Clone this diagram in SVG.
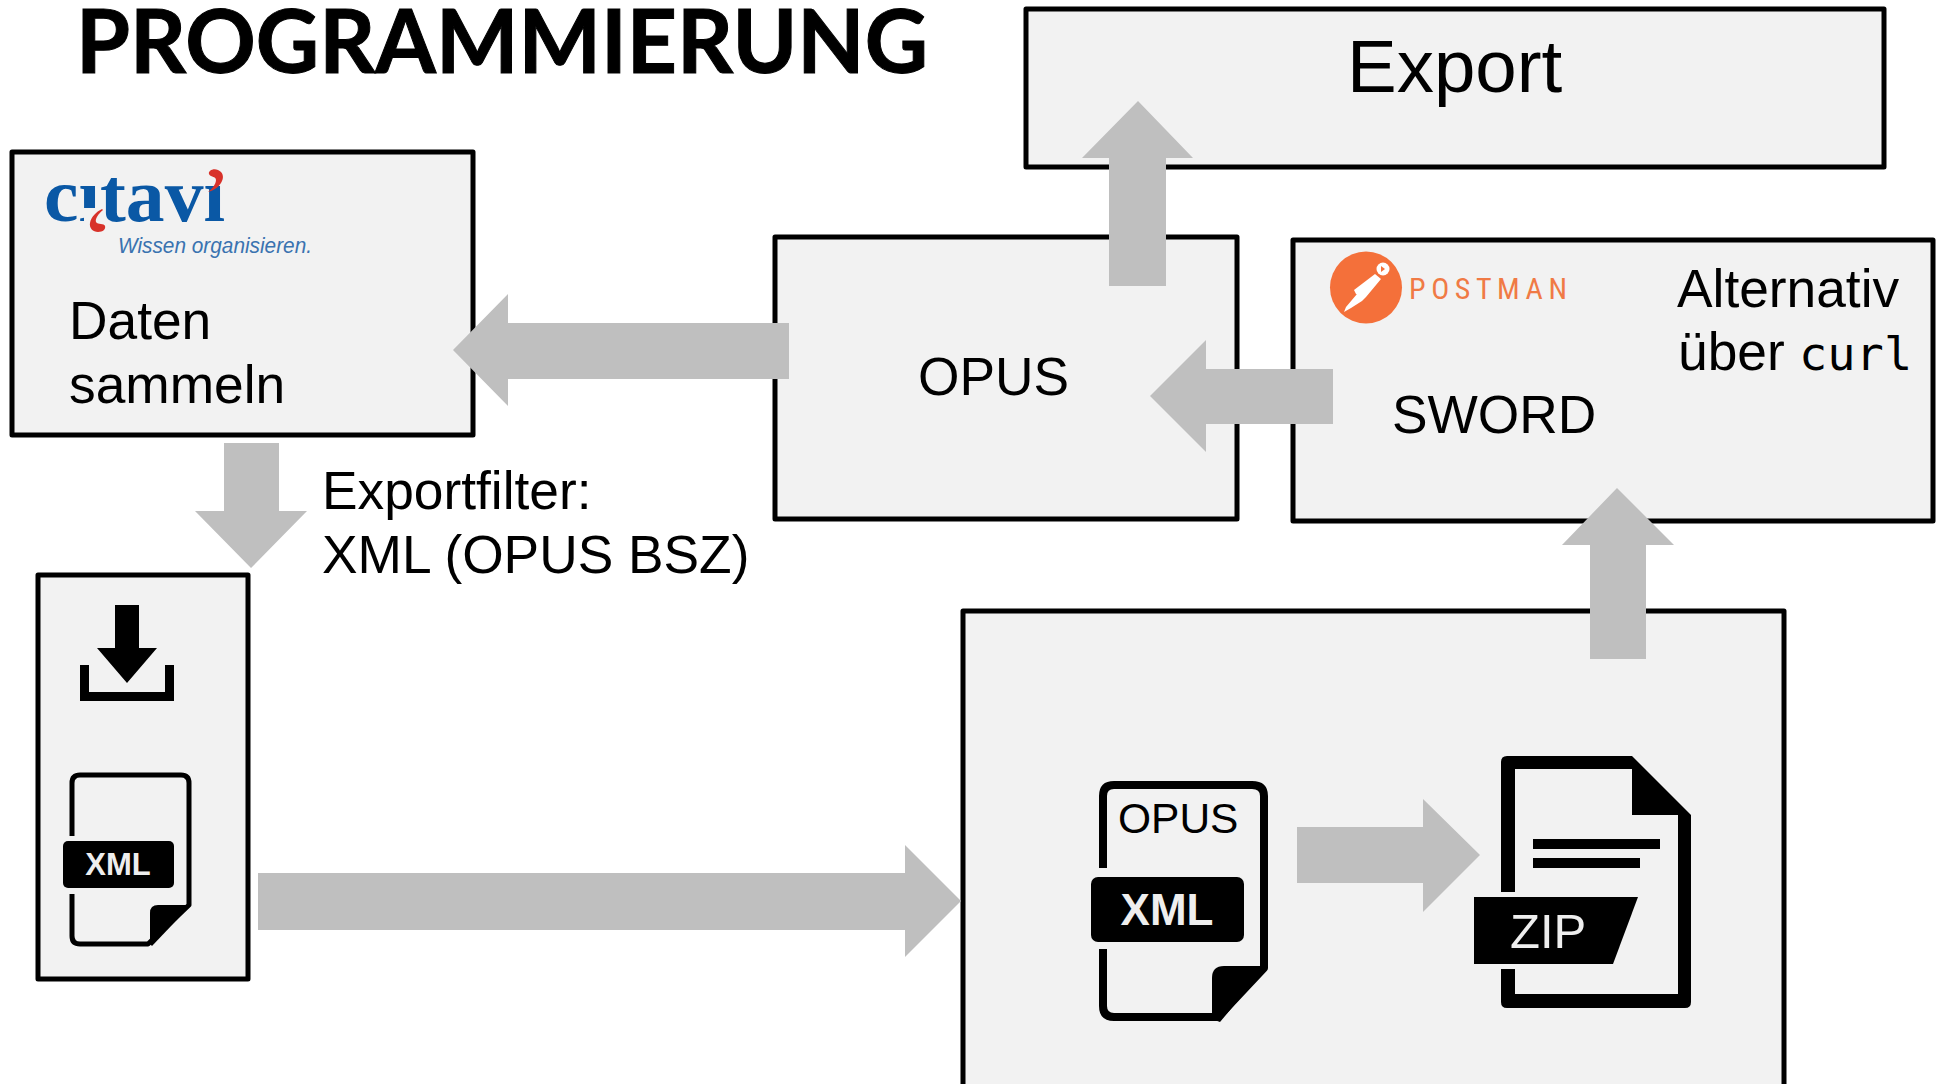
<svg xmlns="http://www.w3.org/2000/svg" width="1939" height="1084" viewBox="0 0 1939 1084">
<style>
.box{fill:#f2f2f2;stroke:#000;stroke-width:5;stroke-linejoin:round}
.arrow{fill:#bfbfbf}
.t{font-family:"Liberation Sans",Arial,sans-serif;font-size:53.3px;fill:#000}
.ico{fill:#000}
.line{fill:none;stroke:#000;stroke-linejoin:round}
</style>
<rect width="1939" height="1084" fill="#fff"/>
<g id="title"><text x="76" y="73" font-family="Lato,'Open Sans',sans-serif" font-weight="700" font-size="88" textLength="852" lengthAdjust="spacingAndGlyphs" fill="#000" stroke="#000" stroke-width="1">PROGRAMMIERUNG</text></g>
<g id="node-export"><rect class="box" x="1026" y="9" width="858" height="158"/><text class="t" x="1347" y="92" style="font-size:74.5px">Export</text></g>
<g id="node-citavi"><rect class="box" x="12" y="152" width="461" height="283"/>
<text x="44" y="221" font-family="'Liberation Serif',serif" font-weight="700" font-size="76" textLength="181" lengthAdjust="spacingAndGlyphs" fill="#0a58a5">cıtavı</text>
<rect x="84" y="208" width="15" height="16" fill="#f2f2f2"/>
<path d="M102 209c-6 3-11 8-12 14-1 5 3 9 8 9 5 0 8-3 7-6-1-3-7-1-9-4-1-3 2-8 7-12zM208 192c4-3 8-8 8-12 0-4-6-3-7-6-1-3 4-6 9-4 5 2 6 7 4 11-2 5-7 9-14 11z" fill="#d8322a"/>
<text x="118" y="253" font-family="'Liberation Sans',sans-serif" font-style="italic" font-size="22" textLength="194" lengthAdjust="spacingAndGlyphs" fill="#3a73b0">Wissen organisieren.</text>
<text class="t" x="69" y="339">Daten</text><text class="t" x="69" y="403">sammeln</text></g>
<g id="node-opus"><rect class="box" x="775" y="237" width="462" height="282"/><text class="t" x="918" y="395">OPUS</text></g>
<g id="node-sword"><rect class="box" x="1293" y="240" width="640" height="281"/>
<circle cx="1366" cy="287.500" r="36" fill="#f4703a"/>
<g fill="#fff"><circle cx="1383" cy="269" r="6.500"/><path d="M1375 274l6 5-15 18-10-3-2-4zM1357 294l9 3-4 4-11 7-7 4 2-5z"/></g>
<path d="M1381 266l4 3-4 3z" fill="#f4703a"/>
<text x="1409" y="299" font-family="'Liberation Sans Narrow','Roboto Condensed',Roboto,sans-serif" font-size="30" textLength="158" fill="#f07a45">POSTMAN</text>
<text class="t" x="1677" y="307">Alternativ</text>
<text class="t" x="1678" y="370">über</text><text x="1799" y="370" font-family="'DejaVu Sans Mono',monospace" font-size="47" fill="#000">curl</text>
<text class="t" x="1392" y="433">SWORD</text></g>
<g id="node-xml"><rect class="box" x="38" y="575" width="210" height="404"/>
<path class="ico" d="M115 605h24v43h18l-30 35-30-35h18zM80 665h9v27h76v-27h9v36H80z"/>
<path class="line" stroke-width="5" d="M72 836V783q0-8 8-8H181q8 0 8 8V905L148 944H80q-8 0-8-8V894"/>
<path class="ico" d="M150 944V913q0-8 8-8H191L152 946z"/>
<rect class="ico" x="63" y="841" width="111" height="47" rx="5"/>
<text x="118" y="875" text-anchor="middle" font-family="'Liberation Sans',sans-serif" font-weight="700" font-size="31" fill="#eee">XML</text></g>
<g id="node-package"><rect class="box" x="963" y="611" width="821" height="500"/>
<path class="line" stroke-width="8" d="M1103 868V796q0-11 11-11H1252q12 0 12 11V968L1218 1017H1114q-11 0-11-11V949"/>
<path class="ico" d="M1212 1019V978q0-12 12-12H1267L1220 1022z"/>
<rect class="ico" x="1091" y="877" width="153" height="65" rx="7"/>
<text class="t" x="1118" y="833" style="font-size:42.500px">OPUS</text>
<text x="1167" y="925" text-anchor="middle" font-family="'Liberation Sans',sans-serif" font-weight="700" font-size="44" fill="#eee">XML</text>
<path class="ico" fill-rule="evenodd" d="M1501 892V762q0-6 6-6H1632L1691 815V1002q0 6-6 6H1507q-6 0-6-6V969H1515V994H1678V815H1632V769H1515V892z"/>
<rect class="ico" x="1533" y="839" width="127" height="10"/><rect class="ico" x="1533" y="858" width="107" height="10"/>
<path class="ico" d="M1474 897H1638L1613 964H1474z"/>
<text x="1510" y="948" font-family="'Liberation Sans',sans-serif" font-size="49" fill="#eee">ZIP</text></g>
<g id="connectors">
<path class="arrow" d="M789 323H508V294L453 350 508 406V379H789z"/>
<path class="arrow" d="M224 443H279V511H307L251 568 195 511H224z"/>
<path class="arrow" d="M258 873H905V845L961 901 905 957V930H258z"/>
<path class="arrow" d="M1109 286V158H1082L1138 101 1193 158H1166V286z"/>
<path class="arrow" d="M1333 369H1206V340L1150 396 1206 452V424H1333z"/>
<path class="arrow" d="M1590 659V545H1562L1617 488 1674 545H1646V659z"/>
<path class="arrow" d="M1297 827H1423V799L1480 855 1423 912V883H1297z"/>
</g>
<g id="labels"><text class="t" x="322" y="509">Exportfilter:</text><text class="t" x="322" y="573">XML (OPUS BSZ)</text></g>
</svg>
